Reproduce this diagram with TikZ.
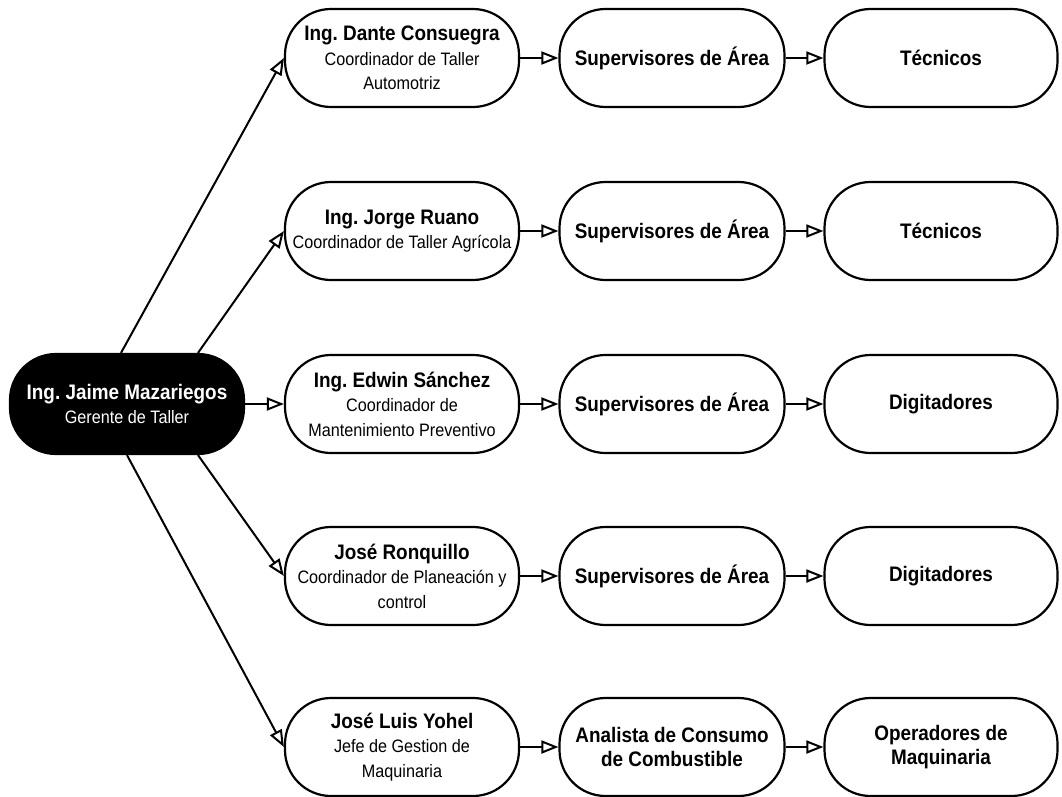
\documentclass[tikz,border=0pt]{standalone}
\usepackage{fontspec}
\setmainfont{Liberation Sans}[FakeStretch=0.9]
\usetikzlibrary{arrows.meta}
\frenchspacing
\tikzset{
  box/.style={draw=black, line width=2.2pt, fill=white, rounded corners=46pt,
    minimum height=98pt, inner sep=0pt, align=center, font=\fontsize{18}{24.5}\selectfont},
  c2/.style={box, minimum width=234pt},
  c3/.style={box, minimum width=225pt},
  c4/.style={box, minimum width=233pt},
  rootbox/.style={box, fill=black, text=white, minimum width=234pt, minimum height=100pt},
  arr/.style={line width=2pt, -{Triangle[open, length=17pt, width=13pt, line width=2pt]}},
}
\newcommand{\bt}[1]{{\fontsize{21}{24.5}\selectfont\bfseries #1}}
\begin{document}
\begin{tikzpicture}[x=1pt,y=-1pt]
\useasboundingbox (0,0) rectangle (1062,797);
\node[rootbox] (root) at (127,404) {\bt{Ing. Jaime Mazariegos}\\Gerente de Taller};
% column 2
\node[c2] (a1) at (402,58) {\bt{Ing. Dante Consuegra}\\Coordinador de Taller\\Automotriz};
\node[c2] (a2) at (402,231) {\bt{Ing. Jorge Ruano}\\Coordinador de Taller Agrícola};
\node[c2] (a3) at (402,404) {\bt{Ing. Edwin Sánchez}\\Coordinador de\\Mantenimiento Preventivo};
\node[c2] (a4) at (402,576) {\bt{José Ronquillo}\\Coordinador de Planeación y\\control};
\node[c2] (a5) at (402,747) {\bt{José Luis Yohel}\\Jefe de Gestion de\\Maquinaria};
% column 3
\node[c3] (b1) at (672,58) {\bt{Supervisores de Área}};
\node[c3] (b2) at (672,231) {\bt{Supervisores de Área}};
\node[c3] (b3) at (672,404) {\bt{Supervisores de Área}};
\node[c3] (b4) at (672,576) {\bt{Supervisores de Área}};
\node[c3] (b5) at (672,747) {\bt{Analista de Consumo}\\\bt{de Combustible}};
% column 4
\node[c4] (d1) at (941,58) {\bt{Técnicos}};
\node[c4] (d2) at (941,231) {\bt{Técnicos}};
\node[c4] (d3) at (941,404) {\bt{Digitadores}};
\node[c4] (d4) at (941,576) {\bt{Digitadores}};
\node[c4] (d5) at (941,747) {\bt{Operadores de}\\\bt{Maquinaria}};
% start points on root
\coordinate (s1) at ([xshift=-6pt]root.north);
\coordinate (s2) at ([xshift=71pt]root.north);
\coordinate (s4) at ([xshift=71pt]root.south);
\coordinate (s5) at ([xshift=0pt]root.south);
\draw[arr] (s1) -- (a1.west);
\draw[arr] (s2) -- (a2.west);
\draw[arr] (root.east) -- (a3.west);
\draw[arr] (s4) -- (a4.west);
\draw[arr] (s5) -- (a5.west);
\foreach \i in {1,...,5}{
  \draw[arr] (a\i.east) -- (b\i.west);
  \draw[arr] (b\i.east) -- (d\i.west);
}
\end{tikzpicture}
\end{document}
